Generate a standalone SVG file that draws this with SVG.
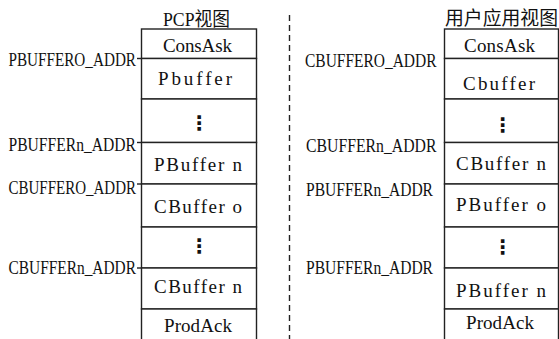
<svg xmlns="http://www.w3.org/2000/svg" width="559" height="339" viewBox="0 0 559 339">
<style>
  .cell { fill: #ffffff; stroke: #222222; stroke-width: 1.4; }
  .t { font-family: "Liberation Serif", "Noto Sans CJK SC", serif; font-size: 19px; fill: #111111; }
  .lbl { font-family: "Liberation Serif", serif; font-size: 19px; fill: #111111; }
  .dots { font-family: "DejaVu Sans", sans-serif; font-size: 20px; font-weight: bold; fill: #111111; text-anchor: middle; }
  .tick { stroke: #222222; stroke-width: 1.4; fill: none; }
  .divider { stroke: #222222; stroke-width: 1.4; stroke-dasharray: 6 4; fill: none; }
</style>
<rect width="559" height="339" fill="#ffffff"/>

<!-- titles -->
<g id="title-pcp"><text class="t" x="163" y="25.5" textLength="67" lengthAdjust="spacingAndGlyphs">PCP视图</text></g>
<g id="title-user"><text class="t" x="445" y="25" textLength="113" lengthAdjust="spacingAndGlyphs">用户应用视图</text></g>

<!-- left column: PCP view -->
<g id="pcp-consask"><rect class="cell" x="141.5" y="29" width="115" height="29.5"/><text class="t" x="163" y="52" textLength="69" lengthAdjust="spacing">ConsAsk</text></g>
<g id="pcp-pbuffer"><rect class="cell" x="141.5" y="58.5" width="115" height="40.5"/><text class="t" x="158" y="85" textLength="74" lengthAdjust="spacing">Pbuffer</text></g>
<g id="pcp-dots1"><rect class="cell" x="141.5" y="99" width="115" height="43.5"/><text class="dots" x="199" y="130">⋮</text></g>
<g id="pcp-pbuffern"><rect class="cell" x="141.5" y="142.5" width="115" height="41.5"/><text class="t" x="154" y="171" textLength="88" lengthAdjust="spacing">PBuffer n</text></g>
<g id="pcp-cbuffero"><rect class="cell" x="141.5" y="184" width="115" height="43"/><text class="t" x="154" y="213" textLength="88" lengthAdjust="spacing">CBuffer o</text></g>
<g id="pcp-dots2"><rect class="cell" x="141.5" y="227" width="115" height="41"/><text class="dots" x="199" y="253">⋮</text></g>
<g id="pcp-cbuffern"><rect class="cell" x="141.5" y="268" width="115" height="41"/><text class="t" x="154" y="293" textLength="88" lengthAdjust="spacing">CBuffer n</text></g>
<g id="pcp-prodack"><rect class="cell" x="141.5" y="309" width="115" height="40"/><text class="t" x="164" y="331.5" textLength="68" lengthAdjust="spacing">ProdAck</text></g>

<!-- right column: user application view -->
<g id="user-consask"><rect class="cell" x="444.5" y="29" width="114" height="29.5"/><text class="t" x="464" y="52" textLength="71" lengthAdjust="spacing">ConsAsk</text></g>
<g id="user-cbuffer"><rect class="cell" x="444.5" y="58.5" width="114" height="40.5"/><text class="t" x="463" y="90" textLength="72" lengthAdjust="spacing">Cbuffer</text></g>
<g id="user-dots1"><rect class="cell" x="444.5" y="99" width="114" height="43.5"/><text class="dots" x="502.5" y="132">⋮</text></g>
<g id="user-cbuffern"><rect class="cell" x="444.5" y="142.5" width="114" height="41.5"/><text class="t" x="456" y="169.5" textLength="90" lengthAdjust="spacing">CBuffer n</text></g>
<g id="user-pbuffero"><rect class="cell" x="444.5" y="184" width="114" height="43"/><text class="t" x="456" y="210.5" textLength="90" lengthAdjust="spacing">PBuffer o</text></g>
<g id="user-dots2"><rect class="cell" x="444.5" y="227" width="114" height="41"/><text class="dots" x="502.5" y="254">⋮</text></g>
<g id="user-pbuffern"><rect class="cell" x="444.5" y="268" width="114" height="41"/><text class="t" x="456" y="297" textLength="90" lengthAdjust="spacing">PBuffer n</text></g>
<g id="user-prodack"><rect class="cell" x="444.5" y="309" width="114" height="40"/><text class="t" x="466" y="329" textLength="68" lengthAdjust="spacing">ProdAck</text></g>

<!-- address labels -->
<g id="lbl-pbuffer0-left"><text class="lbl" x="8.5" y="65.5" textLength="127.5" lengthAdjust="spacingAndGlyphs">PBUFFERO_ADDR</text></g>
<g id="lbl-pbuffern-left"><text class="lbl" x="8.5" y="151" textLength="127.5" lengthAdjust="spacingAndGlyphs">PBUFFERn_ADDR</text></g>
<g id="lbl-cbuffer0-left"><text class="lbl" x="8.5" y="194" textLength="127.5" lengthAdjust="spacingAndGlyphs">CBUFFERO_ADDR</text></g>
<g id="lbl-cbuffern-left"><text class="lbl" x="8.5" y="274" textLength="127.5" lengthAdjust="spacingAndGlyphs">CBUFFERn_ADDR</text></g>
<g id="lbl-cbuffer0-right"><text class="lbl" x="305" y="66.5" textLength="131.5" lengthAdjust="spacingAndGlyphs">CBUFFERO_ADDR</text></g>
<g id="lbl-cbuffern-right"><text class="lbl" x="306" y="151.5" textLength="130.5" lengthAdjust="spacingAndGlyphs">CBUFFERn_ADDR</text></g>
<g id="lbl-pbuffern-right-1"><text class="lbl" x="306" y="196" textLength="127" lengthAdjust="spacingAndGlyphs">PBUFFERn_ADDR</text></g>
<g id="lbl-pbuffern-right-2"><text class="lbl" x="306" y="274" textLength="127" lengthAdjust="spacingAndGlyphs">PBUFFERn_ADDR</text></g>

<!-- connectors: address ticks and view divider -->
<g id="connectors">
  <line class="tick" x1="137" y1="58.5" x2="141.5" y2="58.5"/>
  <line class="tick" x1="137" y1="142.5" x2="141.5" y2="142.5"/>
  <line class="tick" x1="137" y1="184" x2="141.5" y2="184"/>
  <line class="tick" x1="137" y1="268" x2="141.5" y2="268"/>
  <line class="divider" x1="289.5" y1="15" x2="289.5" y2="339"/>
</g>
</svg>
